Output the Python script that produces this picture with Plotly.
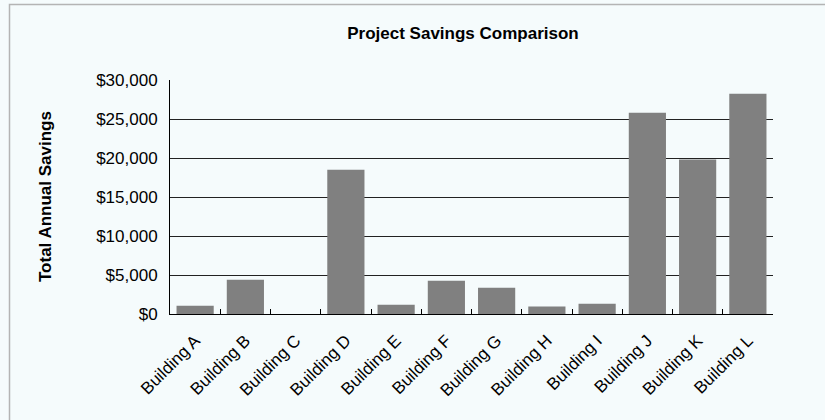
import plotly.graph_objects as go

# ---- data ----
categories = ["Building A", "Building B", "Building C", "Building D", "Building E", "Building F",
              "Building G", "Building H", "Building I", "Building J", "Building K", "Building L"]
savings = [1050, 4400, 0, 18500, 1200, 4270, 3370, 950, 1320, 25800, 19800, 28250]
y_ticks = [0, 5000, 10000, 15000, 20000, 25000, 30000]

title_text = "Project Savings Comparison"
y_title = "Total Annual Savings"

BG = "#f5fbfc"
FONT = "Liberation Sans, Arial, Helvetica, sans-serif"

fig = go.Figure(
    go.Bar(
        x=categories,
        y=savings,
        marker=dict(color="#808080", line=dict(width=0)),
        hoverinfo="x+y",
    )
)

L, R, T, B = 170, 52, 80, 106
W, H = 825, 420
pw, ph = W - L - R, H - T - B

def px_x(p):
    return (p - L) / pw

def px_y(p):
    return (H - B - p) / ph

fig.update_layout(
    width=W,
    height=H,
    margin=dict(l=L, r=R, t=T, b=B, pad=0),
    paper_bgcolor=BG,
    plot_bgcolor=BG,
    bargap=0.26,
    showlegend=False,
    font=dict(family=FONT, color="#000000", size=17),
    title=dict(
        text="<b>" + title_text + "</b>",
        font=dict(family=FONT, size=17, color="#000000"),
        xref="container", x=463 / W, xanchor="center",
        yref="container", y=1 - 33 / H, yanchor="middle",
    ),
    xaxis=dict(
        type="category",
        showline=True, linecolor="#000000", linewidth=1,
        ticks="inside", tickson="boundaries", ticklen=5, tickwidth=1, tickcolor="#000000",
        tickangle=-45,
        ticklabelstandoff=9,
        tickfont=dict(family=FONT, size=17, color="#000000"),
        showgrid=False,
        zeroline=False,
    ),
    yaxis=dict(
        range=[0, 30000],
        tickvals=y_ticks,
        tickformat="$,.0f",
        showline=True, linecolor="#000000", linewidth=1,
        ticks="",
        ticklabelstandoff=8,
        tickfont=dict(family=FONT, size=17, color="#000000"),
        showgrid=True, gridcolor="#222222", gridwidth=1,
        zeroline=False,
    ),
    annotations=[
        dict(
            text="<b>" + y_title + "</b>",
            textangle=-90,
            xref="paper", yref="paper",
            x=px_x(45), y=0.5,
            xanchor="center", yanchor="middle",
            showarrow=False,
            font=dict(family=FONT, size=17, color="#000000"),
        )
    ],
    shapes=[
        dict(
            type="rect", xref="paper", yref="paper", layer="below",
            x0=px_x(9.5), x1=px_x(860), y0=px_y(460), y1=px_y(4.5),
            line=dict(color="#b4b4b4", width=1.5),
            fillcolor="rgba(0,0,0,0)",
        )
    ],
)

fig.write_html("out.html")
